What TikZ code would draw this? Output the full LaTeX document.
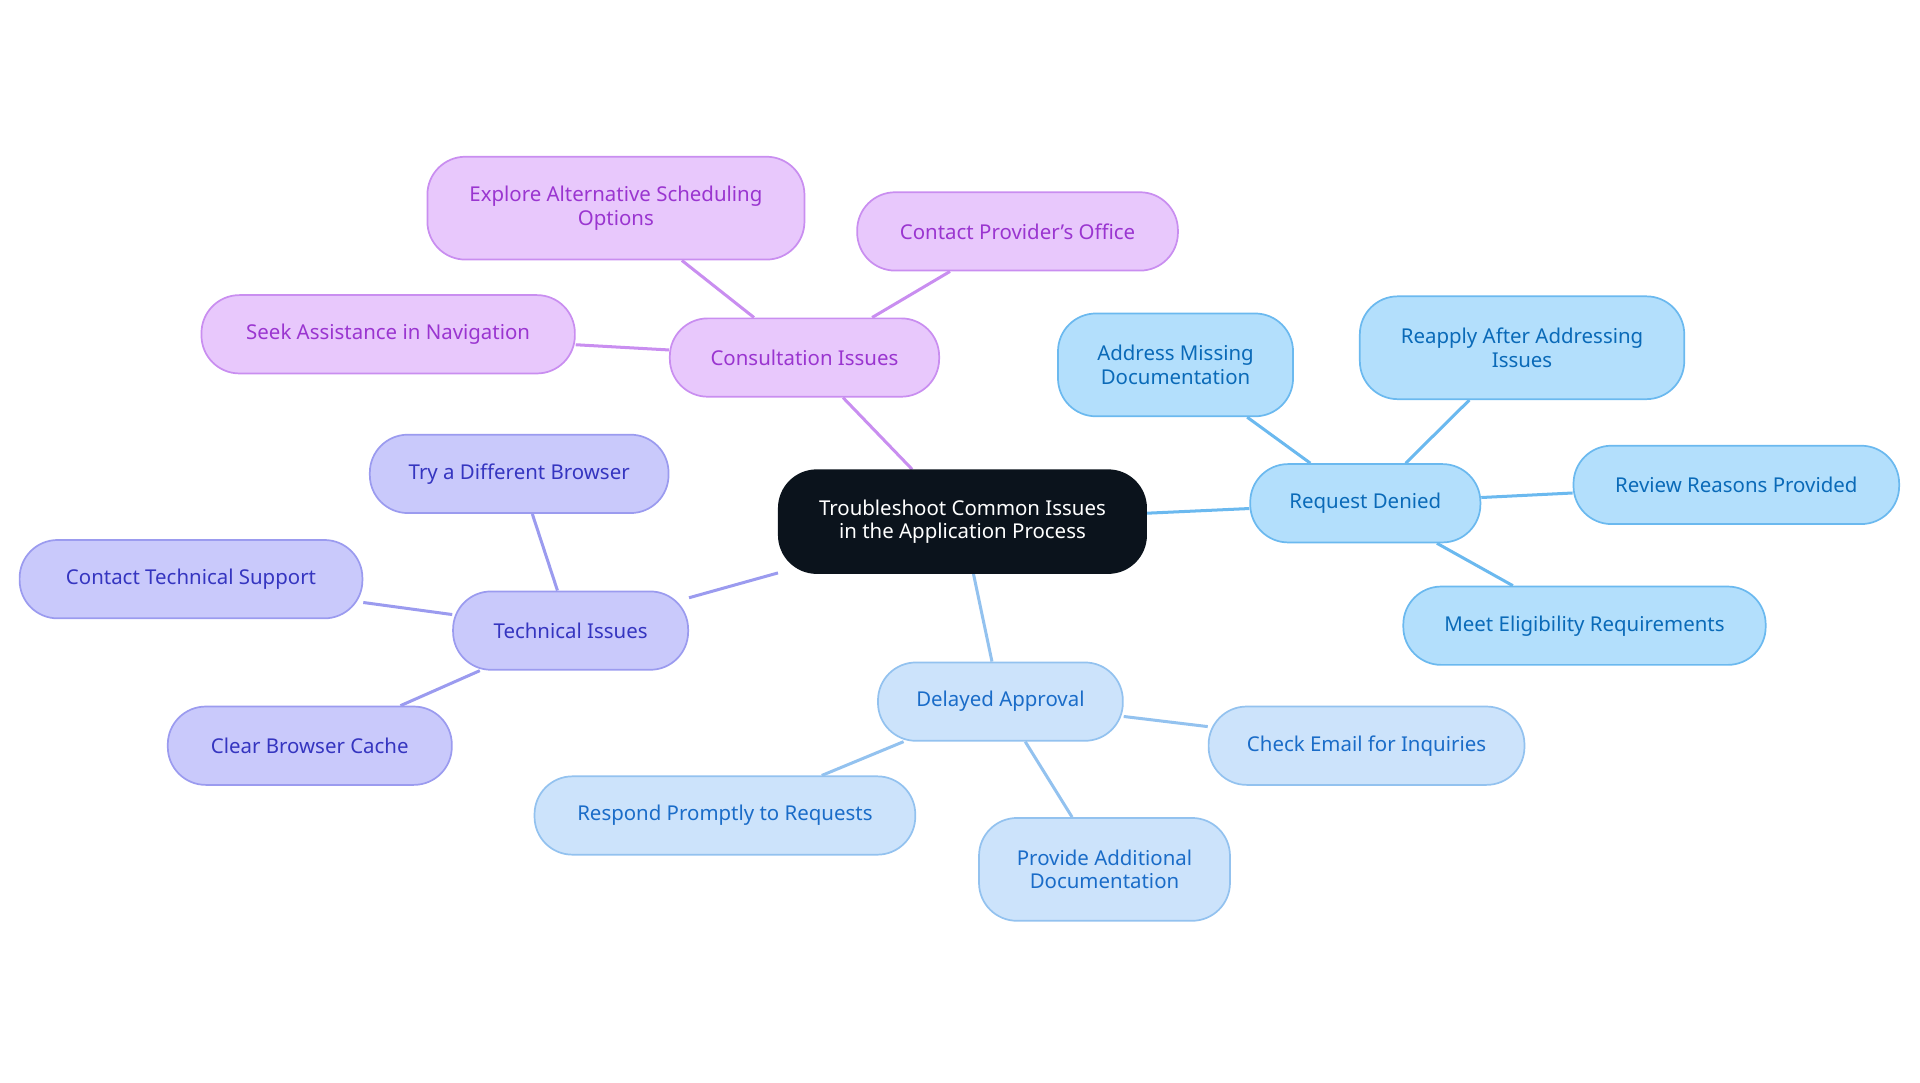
\documentclass[tikz,border=0pt]{standalone}
\usepackage{fontspec}
\setmainfont{Noto Sans}
\usetikzlibrary{backgrounds}
\definecolor{rootfill}{HTML}{0B131C}
\definecolor{pufill}{HTML}{E8C8FC}\definecolor{pudraw}{HTML}{C98EF0}\definecolor{putext}{HTML}{9A35D0}
\definecolor{infill}{HTML}{C9C9FB}\definecolor{indraw}{HTML}{9B9BEF}\definecolor{intext}{HTML}{3535C0}
\definecolor{skfill}{HTML}{B3DFFC}\definecolor{skdraw}{HTML}{6BB9EF}\definecolor{sktext}{HTML}{0A6AB8}
\definecolor{blfill}{HTML}{CCE3FB}\definecolor{bldraw}{HTML}{93C2EF}\definecolor{bltext}{HTML}{1A6CC8}
\tikzset{
  box/.style={rounded corners=0.62cm, align=center, inner sep=0pt, minimum height=1.28cm,
    font=\fontsize{9.5}{11}\selectfont, line width=0.8pt},
  root/.style={box, fill=rootfill, draw=rootfill, text=white, minimum height=1.68cm, minimum width=6cm},
  purple/.style={box, fill=pufill, draw=pudraw, text=putext},
  indigo/.style={box, fill=infill, draw=indraw, text=intext},
  sky/.style={box, fill=skfill, draw=skdraw, text=sktext},
  pale/.style={box, fill=blfill, draw=bldraw, text=bltext},
  tall/.style={minimum height=1.68cm},
  link/.style={line width=1.4pt},
}
\begin{document}
\begin{tikzpicture}[x=0.02cm, y=-0.02cm]
\useasboundingbox (0,0) rectangle (1568,884);
% Root
\node[root] (root) at (786,426) {Troubleshoot Common Issues\\in the Application Process};

% Consultation branch
\node[purple, minimum width=4.4cm] (consult) at (657,292) {Consultation Issues};
\node[purple, tall, minimum width=6.16cm] (explore) at (503,170) {Explore Alternative Scheduling\\Options};
\node[purple, minimum width=5.24cm] (office) at (831,189) {Contact Provider's Office};
\node[purple, minimum width=6.1cm] (seek) at (317,273) {Seek Assistance in Navigation};

% Technical branch
\node[indigo, minimum width=3.84cm] (tech) at (466,515) {Technical Issues};
\node[indigo, minimum width=4.88cm] (browser) at (424,387) {Try a Different Browser};
\node[indigo, minimum width=5.6cm] (support) at (156,473) {Contact Technical Support};
\node[indigo, minimum width=4.64cm] (cache) at (253,609) {Clear Browser Cache};

% Denied branch
\node[sky, minimum width=3.76cm] (denied) at (1115,411) {Request Denied};
\node[sky, tall, minimum width=3.84cm] (missing) at (960,298) {Address Missing\\Documentation};
\node[sky, tall, minimum width=5.3cm] (reapply) at (1243,284) {Reapply After Addressing\\Issues};
\node[sky, minimum width=5.32cm] (reasons) at (1418,396) {Review Reasons Provided};
\node[sky, minimum width=5.92cm] (eligible) at (1294,511) {Meet Eligibility Requirements};

% Delayed branch
\node[pale, minimum width=4cm] (delayed) at (817,573) {Delayed Approval};
\node[pale, minimum width=5.16cm] (email) at (1116,609) {Check Email for Inquiries};
\node[pale, minimum width=6.22cm] (respond) at (592,666) {Respond Promptly to Requests};
\node[pale, tall, minimum width=4.1cm] (provide) at (902,710) {Provide Additional\\Documentation};

% Connectors
\begin{scope}[on background layer]
\draw[link, pudraw] (root) -- (consult);
\foreach \n in {explore, office, seek} \draw[link, pudraw] (consult) -- (\n);
\draw[link, indraw] (root) -- (tech);
\foreach \n in {browser, support, cache} \draw[link, indraw] (tech) -- (\n);
\draw[link, skdraw] (root) -- (denied);
\foreach \n in {missing, reapply, reasons, eligible} \draw[link, skdraw] (denied) -- (\n);
\draw[link, bldraw] (root) -- (delayed);
\foreach \n in {email, respond, provide} \draw[link, bldraw] (delayed) -- (\n);
\end{scope}
\end{tikzpicture}
\end{document}
